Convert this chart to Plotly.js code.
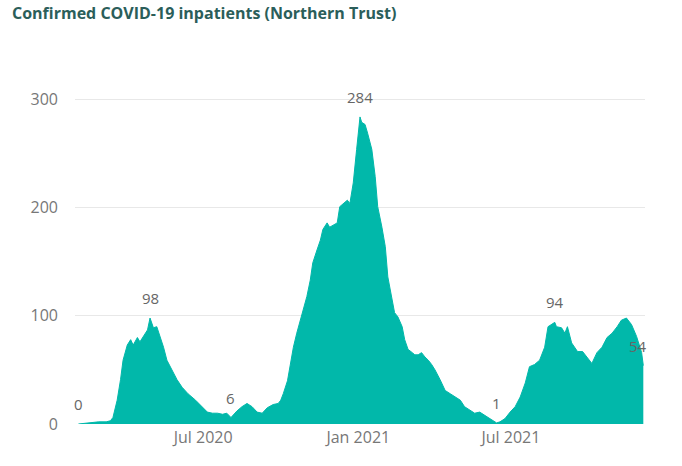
<!DOCTYPE html>
<html>
<head>
<meta charset="utf-8">
<script src="https://cdn.plot.ly/plotly-3.0.1.min.js"></script>
<style>html,body{margin:0;padding:0;background:#fff;}#chart{width:682px;height:466px;}</style>
</head>
<body>
<div id="chart"></div>
<script>
// Daily confirmed COVID-19 inpatients
const dates = [
 '2020-02-04','2020-02-28','2020-03-08','2020-03-13','2020-03-16','2020-03-21','2020-03-25','2020-03-28',
 '2020-04-02','2020-04-06','2020-04-09','2020-04-14','2020-04-17','2020-04-21','2020-04-26','2020-04-29',
 '2020-05-03','2020-05-07','2020-05-11','2020-05-15','2020-05-19','2020-05-25','2020-05-31','2020-06-06',
 '2020-06-13','2020-06-22','2020-06-30','2020-07-06','2020-07-12','2020-07-18','2020-07-24','2020-07-29',
 '2020-08-03','2020-08-10','2020-08-16','2020-08-22','2020-08-28','2020-09-03','2020-09-09','2020-09-15',
 '2020-09-22','2020-09-28','2020-10-01','2020-10-04','2020-10-09','2020-10-12','2020-10-16','2020-10-20',
 '2020-10-24','2020-10-27','2020-11-01','2020-11-05','2020-11-08','2020-11-13','2020-11-17','2020-11-20',
 '2020-11-25','2020-11-28','2020-12-02','2020-12-07','2020-12-10','2020-12-14','2020-12-19','2020-12-22',
 '2020-12-26','2020-12-30','2021-01-01','2021-01-03','2021-01-05','2021-01-09','2021-01-12','2021-01-17',
 '2021-01-21','2021-01-24','2021-01-29','2021-02-02','2021-02-05','2021-02-10','2021-02-13','2021-02-17',
 '2021-02-22','2021-02-25','2021-03-01','2021-03-06','2021-03-09','2021-03-13','2021-03-17','2021-03-21',
 '2021-03-25','2021-03-29','2021-04-02','2021-04-08','2021-04-14','2021-04-20','2021-04-26','2021-05-02',
 '2021-05-07','2021-05-13','2021-05-19','2021-05-25','2021-05-31','2021-06-06','2021-06-12','2021-06-14',
 '2021-06-18','2021-06-24','2021-06-30','2021-07-06','2021-07-12','2021-07-18','2021-07-23','2021-07-29',
 '2021-08-04','2021-08-10','2021-08-14','2021-08-20','2021-08-22','2021-08-24','2021-08-30','2021-09-03',
 '2021-09-06','2021-09-11','2021-09-15','2021-09-18','2021-09-24','2021-09-29','2021-10-05','2021-10-11',
 '2021-10-17','2021-10-23','2021-10-29','2021-11-04','2021-11-09','2021-11-15','2021-11-21','2021-11-27',
 '2021-12-03','2021-12-05'
];
const inpatients = [
 0,2,2,3,6,22,41,59,
 73,78,73,80,76,81,87,98,
 89,90,81,71,59,50,41,34,
 28,22,16,11,10,10,9,10,
 6,12,16,19,16,11,10,15,
 18,19,22,28,40,53,71,84,
 96,103,118,133,149,161,170,180,
 186,182,184,186,201,204,207,204,
 223,254,270,284,279,277,269,254,
 229,201,182,164,136,115,103,99,
 90,78,69,66,64,64,66,62,
 59,55,50,41,31,28,25,22,
 16,13,10,11,8,5,2,1,
 2,5,11,16,25,38,53,55,
 59,71,90,93,94,90,89,84,
 90,75,71,67,67,62,56,66,
 71,80,84,90,96,98,92,81,
 66,54
];
// Data labels shown on the chart
const labelDates = ['2020-02-04','2020-04-29','2020-08-03','2021-01-03','2021-06-14','2021-08-22','2021-12-05'];
const labelValues = [0,98,6,284,1,94,54];
const labelShift = [0,0,0,0,0,0,-5];
// Axis ticks
const xTickVals = ['2020-07-01','2021-01-01','2021-07-01'];
const xTickText = ['Jul 2020','Jan 2021','Jul 2021'];
const yTickVals = [0,100,200,300];

const FONT = '"Open Sans", "Noto Sans", sans-serif';

const area = {
  x: dates, y: inpatients, type: 'scatter', mode: 'lines',
  fill: 'tozeroy', fillcolor: '#01B8AA',
  line: {color: '#01B8AA', width: 1, shape: 'linear'},
  hoverinfo: 'skip'
};

const annotations = labelDates.map((d, i) => ({
  x: d, y: labelValues[i], xref: 'x', yref: 'y',
  text: String(labelValues[i]), showarrow: false,
  yanchor: 'bottom', xanchor: 'center', yshift: 8, xshift: labelShift[i],
  font: {family: FONT, size: 15, color: '#666666'}
}));

const layout = {
  width: 682, height: 466,
  margin: {l: 75, r: 37, t: 78, b: 42},
  paper_bgcolor: '#ffffff', plot_bgcolor: '#ffffff',
  showlegend: false,
  title: {
    text: 'Confirmed COVID-19 inpatients (Northern Trust)',
    x: 12/682, xref: 'container', xanchor: 'left',
    y: 1 - 13/466, yref: 'container', yanchor: 'middle',
    font: {family: FONT, size: 16, color: '#2b5e5a', weight: 'bold'}
  },
  xaxis: {
    type: 'date', range: ['2020-01-31', '2021-12-07'],
    tickmode: 'array', tickvals: xTickVals, ticktext: xTickText,
    showgrid: false, zeroline: false, showline: false, ticks: '',
    tickfont: {family: FONT, size: 16, color: '#777777'},
    ticklabelstandoff: 2
  },
  yaxis: {
    range: [0, 320], tickmode: 'array', tickvals: yTickVals,
    showgrid: true, gridcolor: '#e8e8e8', gridwidth: 1,
    zeroline: false, showline: false, ticks: '',
    tickfont: {family: FONT, size: 16, color: '#777777'},
    ticklabelstandoff: 16
  },
  annotations: annotations
};

Plotly.newPlot('chart', [area], layout, {staticPlot: true, displayModeBar: false});
</script>
</body>
</html>
